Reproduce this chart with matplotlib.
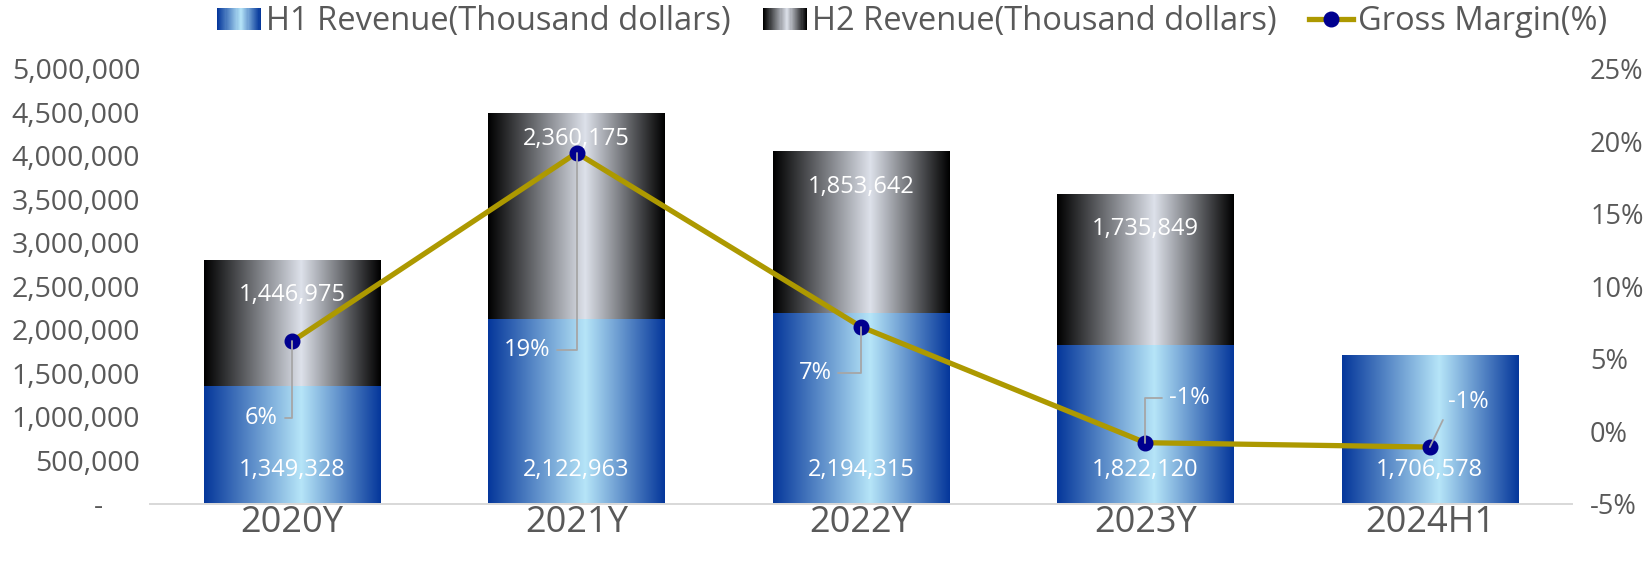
import numpy as np
import matplotlib
matplotlib.use("Agg")
import matplotlib.pyplot as plt
from matplotlib.colors import LinearSegmentedColormap
from matplotlib.legend_handler import HandlerBase
from matplotlib.patches import Rectangle
from matplotlib.lines import Line2D

# データ
categories = ["2020Y", "2021Y", "2022Y", "2023Y", "2024H1"]
h1_revenue = [1349328, 2122963, 2194315, 1822120, 1706578]
h2_revenue = [1446975, 2360175, 1853642, 1735849, 0]
gross_margin = [6.2, 19.2, 7.2, -0.8, -1.1]
margin_labels = ["6%", "19%", "7%", "-1%", "-1%"]

plt.rcParams['font.family'] = ['Open Sans', 'DejaVu Sans']
grey_txt = '#595959'

# グラデーション
cmap_h1 = LinearSegmentedColormap.from_list(
    "h1", [(0, '#05379b'), (0.55, '#b6e5f8'), (1, '#05379b')])
cmap_h2 = LinearSegmentedColormap.from_list(
    "h2", [(0, '#000000'), (0.55, '#dde1ea'), (1, '#000000')])


class GradHandler(HandlerBase):
    def __init__(self, cmap):
        super().__init__()
        self.cmap = cmap

    def create_artists(self, legend, orig_handle, xdescent, ydescent,
                       width, height, fontsize, trans):
        n = 40
        arts = []
        for i in range(n):
            r = Rectangle((-xdescent + i * width / n, -ydescent),
                          width / n * 1.1, height,
                          facecolor=self.cmap(i / (n - 1)), lw=0,
                          transform=trans)
            arts.append(r)
        return arts


fig = plt.figure(figsize=(16.52, 5.69), dpi=100)
ax = fig.add_axes([0.0908, 0.115, 0.8608, 0.764])
ax2 = ax.twinx()

x = np.arange(len(categories))
w = 0.62
bars1 = ax.bar(x, h1_revenue, w, color='none', lw=0)
bars2 = ax.bar(x, h2_revenue, w, bottom=h1_revenue, color='none', lw=0)

grad = np.linspace(0, 1, 256)
for bars, cm in [(bars1, cmap_h1), (bars2, cmap_h2)]:
    for r in bars:
        if r.get_height() <= 0:
            continue
        x0, y0 = r.get_x(), r.get_y()
        img = cm(grad)[np.newaxis, :, :3]
        ax.imshow(img, extent=[x0, x0 + r.get_width(), y0, y0 + r.get_height()],
                  aspect='auto', zorder=1, interpolation='bilinear')

ax.set_xlim(-0.5, len(categories) - 0.5)
ax.set_ylim(0, 5000000)
ax.set_yticks(np.arange(0, 5000001, 500000))
ax.set_yticklabels([f"{v:,.0f}" if v > 0 else "-     " for v in np.arange(0, 5000001, 500000)])
ax.set_xticks(x)
ax.set_xticklabels(categories)

# 売上ラベル
for i in range(len(categories)):
    ax.annotate(f"{h1_revenue[i]:,}", (x[i], 0), xytext=(0, 34),
                textcoords='offset pixels', ha='center', va='center',
                color='white', fontsize=17, zorder=5)
    if h2_revenue[i] > 0:
        off = -25 if i == 1 else -35
        ax.annotate(f"{h2_revenue[i]:,}", (x[i], h1_revenue[i] + h2_revenue[i]),
                    xytext=(0, off), textcoords='offset pixels',
                    ha='center', va='center', color='white', fontsize=17, zorder=5)

# 粗利率
ax2.plot(x, gross_margin, color='#ad9900', lw=3.8, marker='o', ms=10.5,
         mfc='#00008f', mec='#00008f', zorder=3)
ax2.set_ylim(-5, 25)
ax2.set_yticks(np.arange(-5, 26, 5))
ax2.set_yticklabels([f"{v}%" for v in np.arange(-5, 26, 5)])

offsets = [(-31, -77), (-50, -197), (-46, -46), (44, 45), (38, 45)]
for i in range(len(categories)):
    dx, dy = offsets[i]
    if i == 4:
        cs = 'arc3'
        rel = (0.0, 0.15)
    else:
        cs = 'angle,angleA=0,angleB=90,rad=0'
        rel = (1.0, 0.5) if dx < 0 else (0.0, 0.5)
    ax2.annotate(margin_labels[i], (x[i], gross_margin[i]), xytext=(dx, dy),
                 textcoords='offset pixels', ha='center', va='center',
                 color='white', fontsize=17, zorder=6,
                 arrowprops=dict(arrowstyle='-', color='#a6a6a6', lw=1.3,
                                 connectionstyle=cs, relpos=rel,
                                 shrinkA=3, shrinkB=0))

for a in (ax, ax2):
    for s in ['top', 'left', 'right']:
        a.spines[s].set_visible(False)
    a.spines['bottom'].set_color('#d9d9d9')
    a.spines['bottom'].set_linewidth(1.3)
    a.tick_params(length=0, colors=grey_txt)
ax.tick_params(axis='y', labelsize=20.5, pad=7)
ax.tick_params(axis='x', labelsize=26, pad=1)
ax2.tick_params(axis='y', labelsize=19.5, pad=13)

handles = [Rectangle((0, 0), 1, 1), Rectangle((0, 0), 1, 1),
           Line2D([], [], color='#ad9900', lw=3.8, marker='o', ms=10.5,
                  mfc='#00008f', mec='#00008f')]
fig.legend(handles,
           ["H1 Revenue(Thousand dollars)", "H2 Revenue(Thousand dollars)", "Gross Margin(%)"],
           handler_map={handles[0]: GradHandler(cmap_h1), handles[1]: GradHandler(cmap_h2)},
           loc='center', bbox_to_anchor=(0.552, 0.962), ncol=3, frameon=False,
           fontsize=23.5, labelcolor=grey_txt, handlelength=1.35, handleheight=0.65,
           handletextpad=0.15, columnspacing=1.0)

fig.savefig("out.png", dpi=100)
